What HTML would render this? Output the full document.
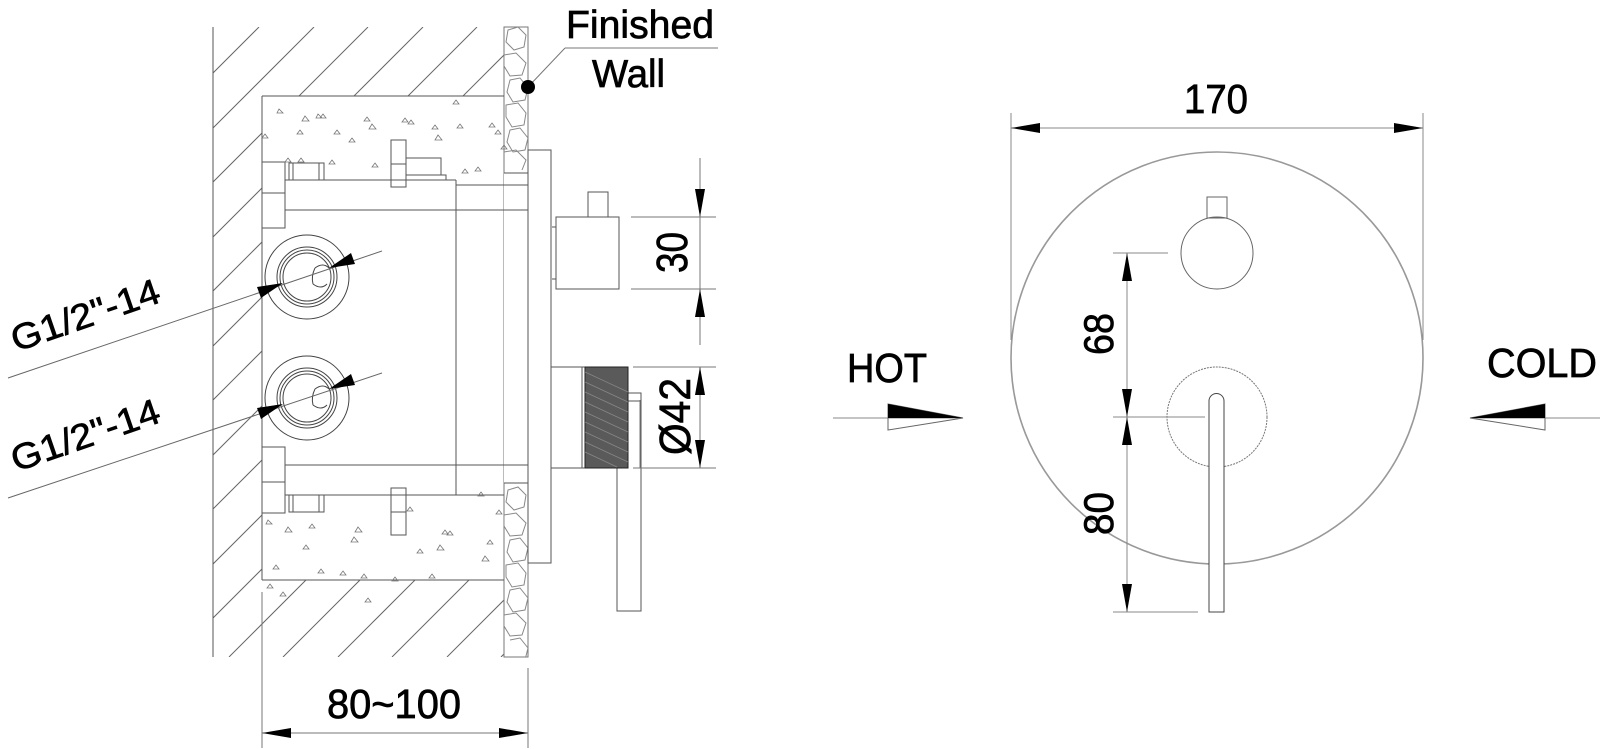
<!DOCTYPE html>
<html><head><meta charset="utf-8"><style>
html,body{margin:0;padding:0;background:#fff;}
svg{display:block;}
text{font-family:"Liberation Sans",Arial,sans-serif;fill:#000;stroke:#000;stroke-width:0.7;}
</style></head><body>
<svg width="1600" height="749" viewBox="0 0 1600 749" xmlns="http://www.w3.org/2000/svg">
<defs>
<clipPath id="hc">
<path d="M213 27 H504 V96 H262 V580 H504 V657 H213 Z"/>
</clipPath>
<clipPath id="sc"><rect x="504" y="27" width="24" height="630"/></clipPath>
</defs>
<g fill="none" stroke="#555" stroke-width="1">
<g clip-path="url(#hc)" stroke="#666">
<line x1="259" y1="27" x2="-371" y2="657"/>
<line x1="314" y1="27" x2="-316" y2="657"/>
<line x1="368" y1="27" x2="-262" y2="657"/>
<line x1="423" y1="27" x2="-207" y2="657"/>
<line x1="477" y1="27" x2="-153" y2="657"/>
<line x1="532" y1="27" x2="-98" y2="657"/>
<line x1="586" y1="27" x2="-44" y2="657"/>
<line x1="641" y1="27" x2="11" y2="657"/>
<line x1="695" y1="27" x2="65" y2="657"/>
<line x1="750" y1="27" x2="120" y2="657"/>
<line x1="804" y1="27" x2="174" y2="657"/>
<line x1="859" y1="27" x2="229" y2="657"/>
<line x1="913" y1="27" x2="283" y2="657"/>
<line x1="968" y1="27" x2="338" y2="657"/>
<line x1="1022" y1="27" x2="392" y2="657"/>
<line x1="1077" y1="27" x2="447" y2="657"/>
<line x1="1131" y1="27" x2="501" y2="657"/>
<line x1="1186" y1="27" x2="556" y2="657"/>
</g>
<line x1="213" y1="27" x2="213" y2="657"/>
<rect x="504" y="27" width="24" height="630" stroke="#777"/>
<g clip-path="url(#sc)" stroke="#888">
<path d="M508 30 l10 -3 l8 8 l-2 12 l-10 3 l-8 -8 z M504 55 l12 -2 l10 10 l-4 12 l-12 1 l-6 -10 z M510 80 l10 -2 l8 10 l-3 12 l-12 2 l-6 -10 z M506 105 l12 -2 l8 10 l-2 12 l-12 2 l-6 -10 z M510 130 l10 -2 l8 10 l-3 12 l-12 2 l-6 -10 z M504 152 l12 -2 l10 10 l-4 10"/>
<path d="M508 490 l10 -3 l8 8 l-2 12 l-10 3 l-8 -8 z M504 515 l12 -2 l10 10 l-4 12 l-12 1 l-6 -10 z M510 540 l10 -2 l8 10 l-3 12 l-12 2 l-6 -10 z M506 565 l12 -2 l8 10 l-2 12 l-12 2 l-6 -10 z M510 590 l10 -2 l8 10 l-3 12 l-12 2 l-6 -10 z M504 615 l12 -2 l10 10 l-4 12 l-12 1 l-6 -10 z M510 640 l10 -2 l8 10 l-3 12"/>
</g>
<rect x="504" y="173" width="24" height="310" fill="#fff" stroke="none"/>
<line x1="262" y1="96" x2="504" y2="96"/>
<line x1="262" y1="96" x2="262" y2="580"/>
<line x1="262" y1="580" x2="504" y2="580"/>
<line x1="262" y1="592" x2="262" y2="657"/>
<line x1="504" y1="173" x2="528" y2="173"/>
<line x1="504" y1="483" x2="528" y2="483"/>
<line x1="285" y1="180" x2="456" y2="180"/>
<line x1="456" y1="185" x2="528" y2="185"/>
<line x1="285" y1="210" x2="528" y2="210"/>
<line x1="456" y1="180" x2="456" y2="495"/>
<line x1="285" y1="465" x2="528" y2="465"/>
<line x1="285" y1="495" x2="504" y2="495"/>
<line x1="528" y1="150" x2="528" y2="563"/>
<rect x="262" y="162" width="23" height="66"/><line x1="262" y1="193" x2="285" y2="193"/>
<rect x="262" y="447" width="23" height="66"/><line x1="262" y1="482" x2="285" y2="482"/>
<rect x="289" y="163" width="35" height="17"/><line x1="293" y1="163" x2="293" y2="180"/><line x1="319" y1="163" x2="319" y2="180"/>
<rect x="391" y="140" width="15" height="47"/><line x1="391" y1="164" x2="406" y2="164"/>
<rect x="406" y="158" width="35" height="17"/><rect x="406" y="175" width="40" height="5"/>
<rect x="289" y="495" width="35" height="17"/><line x1="293" y1="495" x2="293" y2="512"/><line x1="319" y1="495" x2="319" y2="512"/>
<rect x="391" y="488" width="15" height="47"/><line x1="391" y1="512" x2="406" y2="512"/>
<g stroke="#777" stroke-width="0.8">
<path d="M279 109 l4 4 h-6z M305 116 l4 5 h-7z M318 114 l4 4 h-6z M323 114 l3 4 h-6z M367 117 l3 4 h-6z M372 124 l4 5 h-7z M352 138 l3 4 h-6z M405 118 l3 4 h-6z M411 120 l3 4 h-6z M435 125 l3 4 h-6z M438 135 l4 5 h-7z M460 124 l3 4 h-6z M456 100 l3 4 h-6z M492 123 l3 4 h-6z M498 130 l3 4 h-6z M504 145 l3 4 h-6z M265 134 l3 4 h-6z M288 158 l3 4 h-6z M301 158 l3 4 h-6z M332 160 l3 4 h-6z M375 163 l3 4 h-6z M465 169 l3 4 h-6z M478 167 l3 4 h-6z M337 130 l3 4 h-6z M300 130 l3 4 h-6z"/>
<path d="M268 520 l4 4 h-6z M288 527 l4 5 h-7z M312 524 l3 4 h-6z M358 527 l4 5 h-7z M354 537 l4 5 h-7z M306 545 l3 4 h-6z M276 565 l3 4 h-6z M321 569 l3 4 h-6z M343 571 l3 4 h-6z M364 574 l3 4 h-6z M395 577 l3 4 h-6z M432 574 l3 4 h-6z M420 549 l3 4 h-6z M440 545 l4 5 h-7z M445 530 l3 4 h-6z M450 531 l3 4 h-6z M490 540 l3 4 h-6z M485 556 l4 5 h-7z M499 510 l3 4 h-6z M481 492 l3 4 h-6z M410 507 l3 4 h-6z M270 584 l3 4 h-6z M283 592 l3 4 h-6z M368 598 l3 4 h-6z"/>
</g>
<g stroke="#444">
<circle cx="307" cy="277" r="42"/><circle cx="307" cy="277" r="30"/><circle cx="307" cy="277" r="27"/><circle cx="307" cy="277" r="24"/>
<path d="M315 268 q8 -6 14 0 M313 284 q8 6 14 0 M315 268 q-4 8 -2 16"/>
<circle cx="307" cy="398" r="42"/><circle cx="307" cy="398" r="30"/><circle cx="307" cy="398" r="27"/><circle cx="307" cy="398" r="24"/>
<path d="M315 389 q8 -6 14 0 M313 405 q8 6 14 0 M315 389 q-4 8 -2 16"/>
</g>
<g stroke="#666">
<line x1="8" y1="378" x2="382" y2="251"/>
<line x1="8" y1="498" x2="382" y2="373"/>
</g>
<rect x="528" y="150" width="23" height="413"/>
<rect x="556" y="217" width="63" height="72"/>
<line x1="552" y1="227" x2="556" y2="227"/><line x1="552" y1="279" x2="556" y2="279"/>
<rect x="588" y="192" width="20" height="25"/>
<line x1="551" y1="367" x2="585" y2="367"/><line x1="551" y1="468" x2="585" y2="468"/>
<line x1="582" y1="367" x2="582" y2="468"/>
<rect x="628" y="393" width="13" height="8"/>
<rect x="617" y="401" width="24" height="210"/>
<g stroke="#777">
<line x1="631" y1="217" x2="716" y2="217"/>
<line x1="631" y1="289" x2="716" y2="289"/>
<line x1="700" y1="158" x2="700" y2="345"/>
<line x1="633" y1="367" x2="716" y2="367"/>
<line x1="633" y1="468" x2="716" y2="468"/>
<line x1="700" y1="367" x2="700" y2="468"/>
<line x1="640" y1="400" x2="640" y2="468"/>
<line x1="262" y1="733" x2="528" y2="733"/>
<line x1="262" y1="592" x2="262" y2="748"/>
<line x1="528" y1="668" x2="528" y2="748"/>
<line x1="528" y1="87" x2="565" y2="48"/>
<line x1="565" y1="48" x2="718" y2="48"/>
</g>
<circle cx="1217" cy="358" r="206" stroke="#999" stroke-width="1.6"/>
<circle cx="1217" cy="253" r="36" stroke="#666"/>
<rect x="1207" y="197" width="20" height="21" stroke="#666"/>
<circle cx="1217" cy="417" r="50" stroke="#777" stroke-dasharray="2 1"/>
<path d="M1209 612 V401 a7.5 7.5 0 0 1 15 0 V612 Z" fill="#fff" stroke="#444"/>
<g stroke="#888">
<line x1="1011" y1="128" x2="1423" y2="128"/>
<line x1="1011" y1="113" x2="1011" y2="340"/>
<line x1="1423" y1="113" x2="1423" y2="340"/>
<line x1="1127" y1="253" x2="1127" y2="612"/>
<line x1="1113" y1="253" x2="1168" y2="253"/>
<line x1="1113" y1="417" x2="1205" y2="417"/>
<line x1="1113" y1="612" x2="1198" y2="612"/>
<line x1="833" y1="418" x2="963" y2="418"/>
<line x1="1470" y1="418" x2="1600" y2="418"/>
</g>
<path d="M888 404 L963 418 L888 430 Z" stroke="#666"/>
<path d="M1545 404 L1470 418 L1545 430 Z" stroke="#666"/>
</g>
<g fill="#000">
<path d="M888 404 L963 418 L888 418 Z"/>
<path d="M1545 404 L1470 418 L1545 418 Z"/>
<path d="M700 217 L695 189 L705 189 Z"/>
<path d="M700 289 L695 317 L705 317 Z"/>
<path d="M700 367 L695 395 L705 395 Z"/>
<path d="M700 468 L695 440 L705 440 Z"/>
<path d="M262 733 L291 728 L291 738 Z"/>
<path d="M528 733 L499 728 L499 738 Z"/>
<path d="M1011 128 L1040 123 L1040 133 Z"/>
<path d="M1423 128 L1394 123 L1394 133 Z"/>
<path d="M1127 253 L1122 281 L1132 281 Z"/>
<path d="M1127 417 L1122 389 L1132 389 Z"/>
<path d="M1127 417 L1122 445 L1132 445 Z"/>
<path d="M1127 612 L1122 584 L1132 584 Z"/>
<path d="M283 283 L257 287 L261 298 Z"/>
<path d="M329 268 L355 264 L351 253 Z"/>
<path d="M283 404 L257 408 L261 419 Z"/>
<path d="M329 389 L355 385 L351 374 Z"/>
<circle cx="528" cy="87" r="7"/>
</g>
<rect x="585" y="367" width="43" height="101" fill="#5a5a5a" stroke="#222"/>
<g stroke="#888" stroke-width="0.7">
<line x1="585" y1="372" x2="628" y2="392"/><line x1="585" y1="382" x2="628" y2="402"/><line x1="585" y1="392" x2="628" y2="412"/>
<line x1="585" y1="402" x2="628" y2="422"/><line x1="585" y1="412" x2="628" y2="432"/><line x1="585" y1="422" x2="628" y2="442"/>
<line x1="585" y1="432" x2="628" y2="452"/><line x1="585" y1="442" x2="628" y2="462"/><line x1="585" y1="452" x2="617" y2="467"/>
</g>
<text x="566" y="38" font-size="39" textLength="148" lengthAdjust="spacingAndGlyphs">Finished</text>
<text x="592" y="87" font-size="39" textLength="73" lengthAdjust="spacingAndGlyphs">Wall</text>
<text x="327" y="718" font-size="41" textLength="134" lengthAdjust="spacingAndGlyphs">80~100</text>
<text x="1184" y="113" font-size="41" textLength="64" lengthAdjust="spacingAndGlyphs">170</text>
<text x="847" y="382" font-size="41" textLength="80" lengthAdjust="spacingAndGlyphs">HOT</text>
<text x="1487" y="377" font-size="41" textLength="110" lengthAdjust="spacingAndGlyphs">COLD</text>
<text transform="translate(687,273) rotate(-90)" font-size="44" textLength="41" lengthAdjust="spacingAndGlyphs">30</text>
<text transform="translate(690,455) rotate(-90)" font-size="44" textLength="77" lengthAdjust="spacingAndGlyphs">Ø42</text>
<text transform="translate(1113,355) rotate(-90)" font-size="42" textLength="42" lengthAdjust="spacingAndGlyphs">68</text>
<text transform="translate(1113,535) rotate(-90)" font-size="42" textLength="43" lengthAdjust="spacingAndGlyphs">80</text>
<text transform="translate(16,352) rotate(-19)" font-size="36" textLength="155" lengthAdjust="spacingAndGlyphs">G1/2"-14</text>
<text transform="translate(16,472) rotate(-19)" font-size="36" textLength="155" lengthAdjust="spacingAndGlyphs">G1/2"-14</text>
</svg>
</body></html>
